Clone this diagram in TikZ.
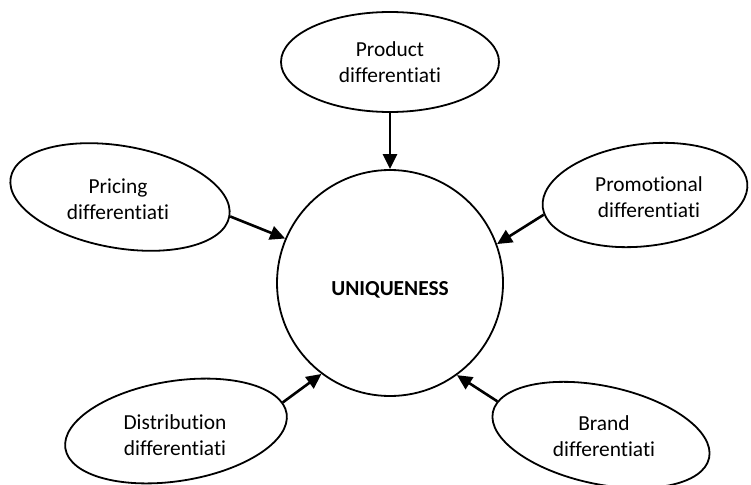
\documentclass[tikz,border=0pt]{standalone}
\usepackage{fontspec}
\setmainfont[Ligatures={NoCommon}]{Carlito}
\usetikzlibrary{shapes.geometric,arrows.meta}

\tikzset{
  blob/.style={draw, ellipse, line width=1.8pt, inner sep=0pt},
  lbl/.style={align=center, font=\fontsize{21.4}{25.6}\selectfont},
  hub/.style={draw, circle, line width=1.8pt, inner sep=0pt, minimum size=226pt},
  feed/.style={line width=2.6pt, -{Triangle[length=15pt,width=14pt]}}
}

\begin{document}
\begin{tikzpicture}[x=1pt, y=-1pt]
  \useasboundingbox (0,0) rectangle (751,484);

  % central circle and its caption
  \node[hub] (uniq) at (390,283) {};
  \node[lbl, font=\fontsize{21.4}{25.6}\selectfont\bfseries] (uniqT) at (390,290) {UNIQUENESS};

  % surrounding ellipses
  \node[blob, minimum width=218pt, minimum height=100pt] (prod) at (390,62) {};
  \node[blob, rotate=-10, minimum width=222pt, minimum height=102pt] (pric) at (120,197) {};
  \node[blob, rotate=7, minimum width=206pt, minimum height=102pt] (promo) at (645,195) {};
  \node[blob, rotate=9, minimum width=224pt, minimum height=100pt] (dist) at (176,431) {};
  \node[blob, rotate=-12, minimum width=221pt, minimum height=98pt] (brand) at (601,435) {};

  % labels
  \node[lbl] (prodT)  at (prod.center)  {Product\\differentiati};
  \node[lbl] (pricT)  at (118,199)      {Pricing\\differentiati};
  \node[lbl] (promoT) at (649,197)      {Promotional\\differentiati};
  \node[lbl] (distT)  at (175,435)      {Distribution\\differentiati};
  \node[lbl] (brandT) at (604,436)      {Brand\\differentiati};

  % arrows into the circle
  \draw[feed] (prod.south) -- (uniq.90);
  \draw[feed] (pric.east) -- (uniq.157.7);
  \draw[feed] (promo.184) -- (uniq.20.9);
  \draw[feed] (dist.6) -- (uniq.233.9);
  \draw[feed] (brand.174) -- (uniq.306.8);
\end{tikzpicture}
\end{document}
